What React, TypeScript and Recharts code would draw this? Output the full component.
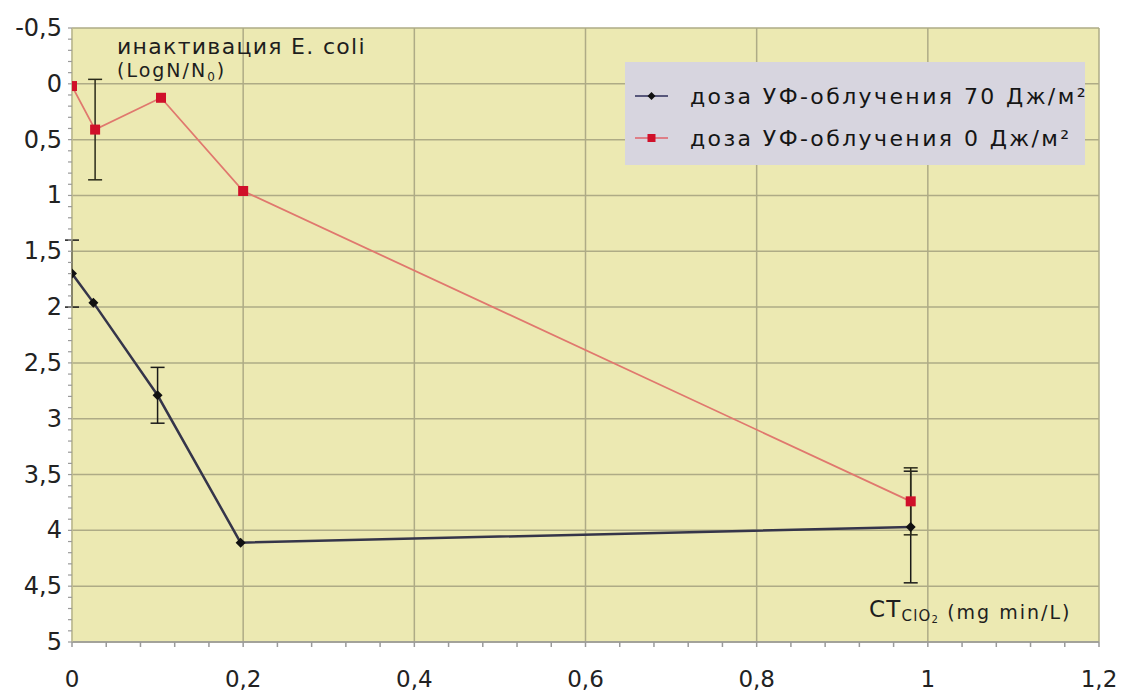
import React from "react";
import {
  LineChart,
  Line,
  XAxis,
  YAxis,
  CartesianGrid,
  ErrorBar,
  Legend,
  Customized,
} from "recharts";

// CT ClO2, mg min/L
const ctUv70 = [0, 0.025, 0.1, 0.197, 0.98];
const logUv70 = [1.7, 1.96, 2.79, 4.11, 3.97];
const errUv70 = [0.3, null, 0.25, null, 0.5];

const ctUv0 = [0, 0.027, 0.104, 0.2, 0.98];
const logUv0 = [0.02, 0.41, 0.125, 0.96, 3.74];
const errUv0 = [null, 0.45, null, null, 0.3];

const seriesNames = ["доза УФ-облучения 70 Дж/м²", "доза УФ-облучения 0 Дж/м²"];

const xMajor = [0, 0.2, 0.4, 0.6, 0.8, 1, 1.2];
const yMajor = [-0.5, 0, 0.5, 1, 1.5, 2, 2.5, 3, 3.5, 4, 4.5, 5];

const minorTicks = (major: number[], parts: number) => {
  const out: number[] = [];
  for (let i = 0; i < major.length - 1; i++) {
    const step = (major[i + 1] - major[i]) / parts;
    for (let k = 0; k < parts; k++) out.push(+(major[i] + k * step).toFixed(4));
  }
  out.push(major[major.length - 1]);
  return out;
};

const uv70 = ctUv70.map((ct, i) => ({ ct, log: logUv70[i], err: errUv70[i] }));
const uv0 = ctUv0.map((ct, i) => ({ ct, log: logUv0[i], err: errUv0[i] }));

const FONT = "'DejaVu Sans', 'Liberation Sans', sans-serif";
const fmt = (v: number) => String(v).replace(".", ",");

const XTick = ({ x, y, payload }: any) => {
  const major = xMajor.some((m) => Math.abs(m - payload.value) < 1e-6);
  return (
    <g>
      <line x1={x} x2={x} y1={y} y2={y + 5} stroke="#9a9a9a" strokeWidth={1.5} />
      {major && (
        <text x={x} y={y + 45} textAnchor="middle" fontFamily={FONT} fontSize={23} fill="#222">
          {fmt(payload.value)}
        </text>
      )}
    </g>
  );
};

const YTick = ({ x, y, payload }: any) => {
  const major = yMajor.some((m) => Math.abs(m - payload.value) < 1e-6);
  return (
    <g>
      <line x1={x - 4} x2={x} y1={y} y2={y} stroke="#9a9a9a" strokeWidth={1.2} />
      {major && (
        <text x={x - 10} y={y} dy={8} textAnchor="end" fontFamily={FONT} fontSize={24} fill="#222">
          {fmt(payload.value)}
        </text>
      )}
    </g>
  );
};

const Diamond = ({ cx, cy }: any) =>
  cx == null ? null : (
    <polygon
      points={`${cx},${cy - 5} ${cx + 5},${cy} ${cx},${cy + 5} ${cx - 5},${cy}`}
      fill="#111"
    />
  );

const Square = ({ cx, cy }: any) =>
  cx == null ? null : <rect x={cx - 5} y={cy - 5} width={10} height={10} fill="#d0102a" />;

const LegendBox = () => (
  <div
    style={{
      width: 460,
      height: 103,
      background: "#d7d5df",
      fontFamily: FONT,
      fontSize: 22,
      letterSpacing: 2.4,
      color: "#151515",
      boxSizing: "border-box",
      paddingTop: 13,
    }}
  >
    {seriesNames.map((name, i) => (
      <div key={name} style={{ display: "flex", alignItems: "center", height: 42 }}>
        <svg width={65} height={20} style={{ flex: "none" }}>
          <line x1={10} x2={43} y1={10} y2={10} stroke={i === 0 ? "#2c2c5a" : "#e0606a"} strokeWidth={1.5} />
          {i === 0 ? (
            <polygon points="26.5,6 30.5,10 26.5,14 22.5,10" fill="#111" />
          ) : (
            <rect x={22.5} y={6} width={8} height={8} fill="#d0102a" />
          )}
        </svg>
        <span style={{ whiteSpace: "nowrap" }}>{name}</span>
      </div>
    ))}
  </div>
);

const Labels = () => (
  <g fontFamily={FONT} fill="#1e1e1e">
    <text x={117} y={54} fontSize={22} letterSpacing={1.3}>
      инактивация E. coli
    </text>
    <text x={117} y={77} fontSize={19} letterSpacing={2}>
      (LogN/N
      <tspan fontSize={12} dy={4}>0</tspan>
      <tspan dy={-4}>)</tspan>
    </text>
    <text x={869} y={617} fontSize={23} letterSpacing={1.2}>
      CT
      <tspan fontSize={15} dy={4}>ClO</tspan>
      <tspan fontSize={10} dy={2}>2</tspan>
      <tspan fontSize={19} dy={-4} letterSpacing={2}> (mg min/L)</tspan>
    </text>
  </g>
);

export default function App() {
  return (
    <div style={{ position: "absolute", left: 0, top: 0, background: "#fff" }}>
      <LineChart width={1130} height={698} margin={{ top: 28, right: 31, left: 0, bottom: 0 }}>
        <CartesianGrid
          fill="#ece9b2"
          stroke="#aeab86"
          strokeWidth={1.5}
          verticalValues={xMajor}
          horizontalValues={yMajor}
        />
        <XAxis
          type="number"
          dataKey="ct"
          domain={[0, 1.2]}
          ticks={minorTicks(xMajor, 5)}
          interval={0}
          height={56}
          tickSize={0}
          tickMargin={0}
          tickLine={false}
          axisLine={{ stroke: "#9a9a9a", strokeWidth: 1.5 }}
          tick={<XTick />}
          allowDataOverflow
        />
        <YAxis
          type="number"
          dataKey="log"
          reversed
          domain={[-0.5, 5]}
          ticks={minorTicks(yMajor, 5)}
          interval={0}
          width={72}
          tickSize={0}
          tickMargin={0}
          tickLine={false}
          axisLine={{ stroke: "#c9c69a", strokeWidth: 1 }}
          tick={<YTick />}
          allowDataOverflow
        />
        <Legend
          layout="horizontal"
          verticalAlign="middle"
          align="center"
          content={<LegendBox />}
          wrapperStyle={{ left: 625, top: 62, width: 460 }}
        />
        <Line
          data={uv70}
          dataKey="log"
          name={seriesNames[0]}
          stroke="#35354a"
          strokeWidth={2.5}
          dot={<Diamond />}
          activeDot={false}
          isAnimationActive={false}
        >
          <ErrorBar dataKey="err" direction="y" width={7} stroke="#1a1a1a" strokeWidth={1.5} />
        </Line>
        <Line
          data={uv0}
          dataKey="log"
          name={seriesNames[1]}
          stroke="#e0786e"
          strokeWidth={1.8}
          dot={<Square />}
          activeDot={false}
          isAnimationActive={false}
        >
          <ErrorBar dataKey="err" direction="y" width={7} stroke="#2a2a1a" strokeWidth={1.5} />
        </Line>
        <Customized component={Labels} />
      </LineChart>
    </div>
  );
}
